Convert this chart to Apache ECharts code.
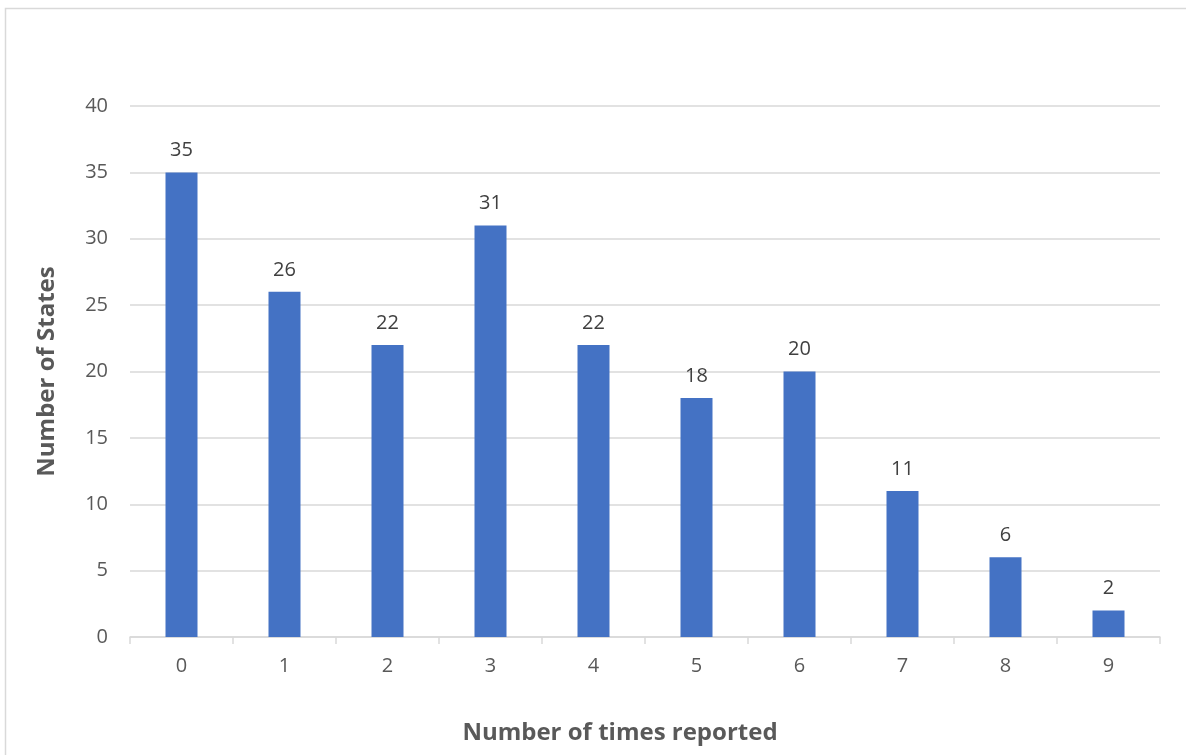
<!DOCTYPE html>
<html>
<head>
<meta charset="utf-8">
<script src="https://cdn.jsdelivr.net/npm/echarts@6/dist/echarts.min.js"></script>
<style>
html,body{margin:0;padding:0;background:#fff;}
#c{width:1186px;height:755px;}
</style>
</head>
<body>
<div id="c"></div>
<script>
var categories = ['0','1','2','3','4','5','6','7','8','9'];
var values = [35, 26, 22, 31, 22, 18, 20, 11, 6, 2];
var xTitle = 'Number of times reported';
var yTitle = 'Number of States';

var chart = echarts.init(document.getElementById('c'));
var font = '"Open Sans", "Liberation Sans", sans-serif';
chart.setOption({
  animation: false,
  backgroundColor: '#fff',
  graphic: [{
    type: 'rect',
    shape: {x: 5.5, y: 8.5, width: 1300, height: 900},
    style: {fill: 'none', stroke: '#d9d9d9', lineWidth: 1.5},
    silent: true
  }],
  grid: {left: 130, right: 26, top: 106, bottom: 118, containLabel: false},
  xAxis: {
    type: 'category',
    data: categories,
    name: xTitle,
    nameLocation: 'middle',
    nameGap: 84,
    nameTextStyle: {fontFamily: font, fontSize: 24, fontWeight: 'bold', color: '#595959', padding: [0, 50, 0, 0]},
    axisLine: {lineStyle: {color: '#d9d9d9', width: 1.5}},
    axisTick: {show: true, length: 7, lineStyle: {color: '#d9d9d9', width: 1.5}},
    axisLabel: {fontFamily: font, fontSize: 20, color: '#595959', margin: 19}
  },
  yAxis: {
    type: 'value',
    min: 0, max: 40, interval: 5,
    name: yTitle,
    nameLocation: 'middle',
    nameGap: 71,
    nameTextStyle: {fontFamily: font, fontSize: 24, fontWeight: 'bold', color: '#595959'},
    axisLine: {show: false},
    axisTick: {show: false},
    axisLabel: {fontFamily: font, fontSize: 20, color: '#595959', margin: 22},
    splitLine: {lineStyle: {color: '#d9d9d9', width: 1.5}}
  },
  series: [{
    type: 'bar',
    data: values,
    barWidth: 32,
    itemStyle: {color: '#4472c4'},
    label: {show: true, position: 'top', distance: 12, fontFamily: font, fontSize: 20, color: '#404040'}
  }]
});
</script>
</body>
</html>
